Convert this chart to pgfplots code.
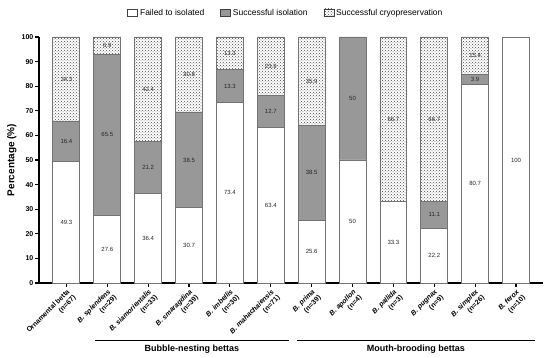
\documentclass[border=0pt]{standalone}
\usepackage{pgfplots}
\usepackage{pgfplotstable}
\pgfplotsset{compat=1.18}
\usepackage{fontspec}
\setmainfont{Liberation Sans}
\usetikzlibrary{patterns}
\definecolor{segGray}{RGB}{152,152,152}
\definecolor{edgeGray}{RGB}{115,115,115}
\pgfplotstableread{
x fail iso cryo
0 49.3 16.4 34.3
1 27.6 65.5 6.9
2 36.4 21.2 42.4
3 30.7 38.5 30.8
4 73.4 13.3 13.3
5 63.4 12.7 23.9
6 25.6 38.5 35.9
7 50 50 0
8 33.3 0 66.7
9 22.2 11.1 66.7
10 80.7 3.9 15.4
11 100 0 0
}\data
\pgfplotstableread{
x y lab
0 24.65 49.3
0 57.5 16.4
0 82.85 34.3
1 13.8 27.6
1 60.35 65.5
1 96.55 6.9
2 18.2 36.4
2 47.0 21.2
2 78.8 42.4
3 15.35 30.7
3 49.95 38.5
3 84.6 30.8
4 36.7 73.4
4 80.05 13.3
4 93.35 13.3
5 31.7 63.4
5 69.75 12.7
5 88.05 23.9
6 12.8 25.6
6 44.85 38.5
6 82.05 35.9
7 25 50
7 75 50
8 16.65 33.3
8 66.65 66.7
9 11.1 22.2
9 27.75 11.1
9 66.65 66.7
10 40.35 80.7
10 82.65 3.9
10 92.3 15.4
11 50 100
}\labels
\begin{document}
\begin{tikzpicture}
\path[use as bounding box] (-39pt,-75pt) rectangle (511pt,283pt);
\begin{axis}[
  at={(0,0)}, anchor=south west,
  scale only axis, width=504pt, height=246pt,
  ybar stacked, bar width=0.66,
  xmin=-0.67, xmax=11.66, ymin=0, ymax=100,
  xtick={0,...,11},
  xticklabels={
    {Ornamental betta\\(n=67)},
    {\textit{B. splendens}\\(n=29)},
    {\textit{B. siamorientalis}\\(n=33)},
    {\textit{B. smaragdina}\\(n=39)},
    {\textit{B. imbellis}\\(n=30)},
    {\textit{B. mahachaiensis}\\(n=71)},
    {\textit{B. prima}\\(n=39)},
    {\textit{B. apollon}\\(n=4)},
    {\textit{B. pallida}\\(n=3)},
    {\textit{B. pugnax}\\(n=9)},
    {\textit{B. simplex}\\(n=26)},
    {\textit{B. ferox}\\(n=10)}},
  ytick={0,10,...,100},
  axis lines=left,
  axis line style={-, line width=1.2pt, black},
  tick style={black, line width=1.1pt},
  major tick length=4pt,
  tick align=outside,
  x tick label style={rotate=45, anchor=north east, align=right,
    font=\fontsize{7}{8.5}\selectfont\bfseries, inner sep=1pt},
  y tick label style={font=\fontsize{7}{8}\selectfont\bfseries, inner sep=1.5pt},
  /pgf/number format/assume math mode=true,
  ylabel={Percentage (\%)},
  ylabel style={font=\fontsize{10}{12}\selectfont\bfseries},
  clip=false,
  legend image code/.code={\draw[#1, draw=black!75, line width=0.6pt] (0pt,-3.5pt) rectangle (10pt,4pt);},
  legend columns=3,
  legend style={at={(0.49,1)}, anchor=south, yshift=17pt, draw=none,
    font=\fontsize{8.5}{10}\selectfont, inner sep=1pt,
    /tikz/every even column/.append style={column sep=14pt}},
  legend cell align=left,
]
\addplot[fill=white, draw=edgeGray, line width=0.8pt] table[x=x, y=fail] {\data};
\addplot[fill=segGray, draw=edgeGray, line width=0.8pt] table[x=x, y=iso] {\data};
\addplot[pattern=crosshatch dots, pattern color=black!70, draw=edgeGray, line width=0.8pt] table[x=x, y=cryo] {\data};
\legend{Failed to isolated, Successful isolation, Successful cryopreservation}
\draw[line width=0.8pt] (axis cs:0.70,-23.2) -- (axis cs:5.44,-23.2);
\draw[line width=0.8pt] (axis cs:5.64,-23.2) -- (axis cs:11.46,-23.2);
\node[font=\fontsize{9}{10}\selectfont\bfseries] at (axis cs:3.07,-26.8) {Bubble-nesting bettas};
\node[font=\fontsize{9}{10}\selectfont\bfseries] at (axis cs:8.55,-26.8) {Mouth-brooding bettas};
\end{axis}
\begin{axis}[
  at={(0,0)}, anchor=south west,
  scale only axis, width=504pt, height=246pt,
  xmin=-0.67, xmax=11.66, ymin=0, ymax=100,
  hide axis, clip=false,
]
\addplot[only marks, mark=none, nodes near coords, point meta=explicit symbolic,
  nodes near coords style={anchor=center, font=\fontsize{6}{7}\selectfont, text=black!85}]
  table[x=x, y=y, meta=lab] {\labels};
\end{axis}
\end{tikzpicture}
\end{document}
